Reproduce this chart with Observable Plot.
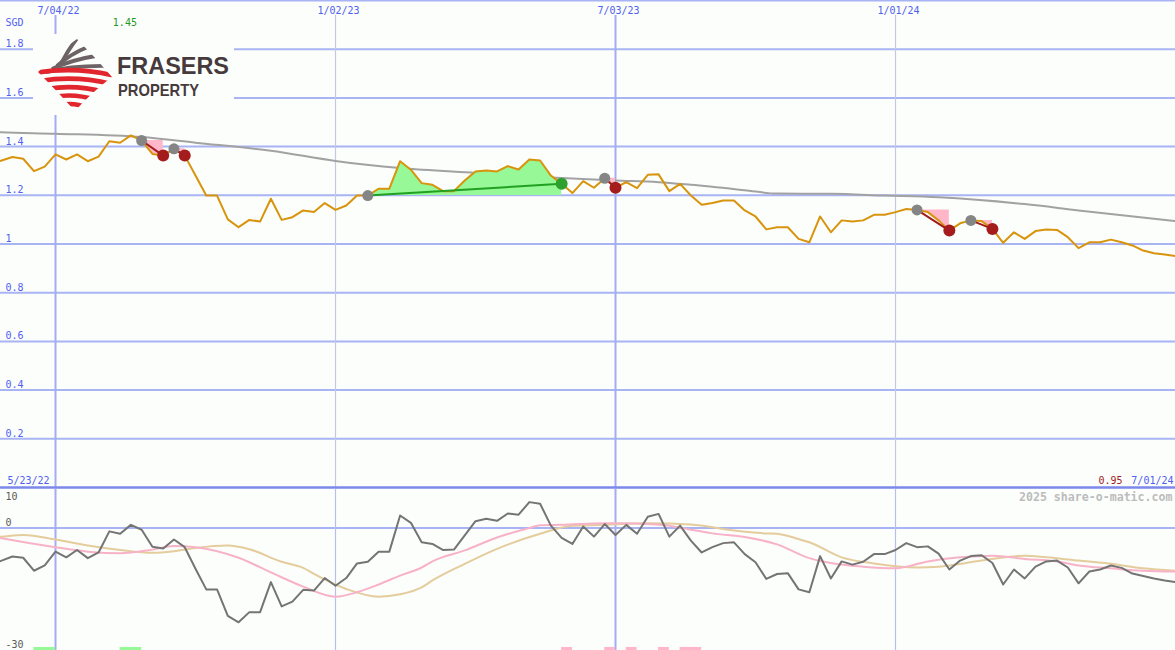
<!DOCTYPE html>
<html><head><meta charset="utf-8">
<script src="https://cdn.jsdelivr.net/npm/d3@7"></script>
<script src="https://cdn.jsdelivr.net/npm/@observablehq/plot@0.6"></script>
<style>
html,body{margin:0;padding:0;background:#fcfefc;overflow:hidden;}
#chart{position:relative;width:1175px;height:650px;overflow:hidden;background:#fcfefc;}
#chart > svg{position:absolute;left:0;}
</style></head><body><div id="chart"></div>
<script>
// ---------- data ----------
const weeks = [
"2022-05-23","2022-05-30","2022-06-06","2022-06-13","2022-06-20","2022-06-27",
"2022-07-04","2022-07-11","2022-07-18","2022-07-25","2022-08-01","2022-08-08","2022-08-15","2022-08-22","2022-08-29",
"2022-09-05","2022-09-12","2022-09-19","2022-09-26","2022-10-03","2022-10-10","2022-10-17","2022-10-24","2022-10-31",
"2022-11-07","2022-11-14","2022-11-21","2022-11-28","2022-12-05","2022-12-12","2022-12-19","2022-12-26",
"2023-01-02","2023-01-09","2023-01-16","2023-01-23","2023-01-30","2023-02-06","2023-02-13","2023-02-20","2023-02-27",
"2023-03-06","2023-03-13","2023-03-20","2023-03-27","2023-04-03","2023-04-10","2023-04-17","2023-04-24",
"2023-05-01","2023-05-08","2023-05-15","2023-05-22","2023-05-29","2023-06-05","2023-06-12","2023-06-19","2023-06-26",
"2023-07-03","2023-07-10","2023-07-17","2023-07-24","2023-07-31","2023-08-07","2023-08-14","2023-08-21","2023-08-28",
"2023-09-04","2023-09-11","2023-09-18","2023-09-25","2023-10-02","2023-10-09","2023-10-16","2023-10-23","2023-10-30",
"2023-11-06","2023-11-13","2023-11-20","2023-11-27","2023-12-04","2023-12-11","2023-12-18","2023-12-25",
"2024-01-01","2024-01-08","2024-01-15","2024-01-22","2024-01-29","2024-02-05","2024-02-12","2024-02-19","2024-02-26",
"2024-03-04","2024-03-11","2024-03-18","2024-03-25","2024-04-01","2024-04-08","2024-04-15","2024-04-22","2024-04-29",
"2024-05-06","2024-05-13","2024-05-20","2024-05-27","2024-06-03","2024-06-10","2024-06-17","2024-06-24","2024-07-01"];

const price = [
1.330,1.343,1.357,1.350,1.299,1.318,
1.368,1.347,1.368,1.340,1.359,1.422,1.416,1.446,1.425,
1.370,1.363,1.391,1.363,1.281,1.199,1.199,1.101,1.069,
1.099,1.092,1.186,1.099,1.110,1.138,1.131,1.168,
1.140,1.158,1.199,1.199,1.227,1.227,1.340,1.305,1.250,
1.243,1.217,1.217,1.261,1.298,1.302,1.298,1.320,
1.306,1.347,1.343,1.281,1.247,1.209,1.258,1.231,1.270,
1.231,1.254,1.229,1.284,1.286,1.217,1.247,1.199,1.161,
1.168,1.179,1.179,1.138,1.113,1.060,1.069,1.069,1.021,
1.007,1.113,1.048,1.097,1.092,1.097,1.120,1.120,
1.131,1.144,1.140,1.131,1.097,1.055,1.085,1.097,1.094,
1.062,1.005,1.048,1.021,1.053,1.060,1.058,1.028,0.983,
1.007,1.007,1.018,1.007,0.994,0.973,0.962,0.957,0.950];

const oscillator = [
-9.0,-8.0,-7.0,-7.3,-10.5,-9.2,
-5.8,-7.2,-5.4,-7.4,-6.0,-0.8,-1.4,0.8,-0.4,
-4.6,-5.0,-2.8,-4.7,-10.0,-15.1,-15.1,-21.6,-23.2,
-20.7,-20.7,-13.3,-19.3,-18.1,-15.2,-15.4,-12.3,
-14.2,-12.3,-8.7,-8.3,-5.8,-5.8,3.1,1.3,-3.5,
-3.9,-5.4,-5.3,-1.8,1.7,2.3,1.8,3.6,
3.3,6.4,6.0,0.6,-2.4,-3.9,0.4,-2.1,1.0,
-1.7,0.8,-1.4,2.8,3.5,-2.1,0.6,-3.1,-6.0,
-4.7,-3.7,-3.5,-6.4,-8.4,-12.5,-11.3,-11.1,-15.1,
-15.8,-6.9,-12.4,-8.2,-9.0,-8.3,-6.4,-6.4,
-5.4,-3.7,-4.7,-4.5,-6.3,-10.2,-8.0,-6.9,-6.7,
-8.6,-13.9,-10.2,-12.4,-9.5,-8.2,-8.0,-9.7,-13.6,
-10.7,-10.2,-9.2,-9.8,-11.2,-11.8,-12.4,-12.9,-13.3];

// long moving average of price (read at selected weeks; index into weeks)
const maLongWeek = [0,1,6,14,19,26,32,38,45,52,58,62,65,70,73,78,83,88,96,101,110];
const maLongValue = [1.461,1.459,1.453,1.439,1.416,1.383,1.341,1.312,1.292,1.273,1.261,1.254,1.243,1.221,1.207,1.206,1.199,1.192,1.164,1.138,1.094];

// oscillator averages (pink = fast, tan = slow)
const oscFastWeek = [0,1,6,9,12,15,17,19,23,26,29,32,34,36,38,40,41,44,47,50,51,53,57,59,61,63,65,67,70,73,76,78,81,84,87,90,93,96,99,101,104,107,110];
const oscFastValue = [-2.0,-2.5,-4.7,-5.8,-6.2,-5.3,-4.4,-4.7,-7.3,-10.9,-14.4,-16.9,-15.8,-13.9,-11.7,-9.7,-8.2,-5.5,-2.3,0.0,0.7,0.8,1.2,1.2,1.0,0.6,-0.4,-1.3,-2.2,-4.0,-7.4,-8.6,-9.5,-9.9,-8.2,-7.2,-6.8,-7.6,-8.2,-9.2,-9.9,-10.5,-10.7];
const oscSlowWeek = [0,1,3,6,9,12,15,17,19,22,24,27,29,30,33,36,38,40,41,44,47,51,54,57,61,65,69,72,73,75,76,79,82,86,88,92,96,98,101,104,107,110];
const oscSlowValue = [-2.3,-2.1,-1.7,-2.8,-4.3,-5.4,-6.1,-5.7,-4.9,-4.3,-5.2,-8.3,-9.8,-11.3,-15.0,-16.9,-16.3,-14.6,-12.9,-8.8,-5.1,-1.4,0.6,0.8,1.2,0.9,-0.6,-1.3,-1.4,-2.7,-3.5,-7.2,-8.7,-9.7,-9.5,-8.0,-6.8,-7.2,-8.0,-8.8,-9.9,-10.5];

// trade signals
const tradeType  = ["sell","sell","buy","sell","sell","sell"];
const tradeEntry = ["2022-08-29","2022-09-19","2023-01-23","2023-06-26","2024-01-15","2024-02-19"];
const tradeExit  = ["2022-09-12","2022-09-26","2023-05-29","2023-07-03","2024-02-05","2024-03-04"];

// small signal bars along the bottom
const markerStart = ["2022-06-20","2022-08-15","2023-05-29","2023-06-26","2023-07-10","2023-07-31","2023-08-14"];
const markerEnd   = ["2022-07-04","2022-08-29","2023-06-05","2023-07-03","2023-07-17","2023-08-07","2023-08-28"];
const markerType  = ["buy","buy","sell","sell","sell","sell","sell"];

// axis ticks
const tickDates  = ["2022-07-04","2023-01-02","2023-07-03","2024-01-01"];
const tickLabels = ["7/04/22","1/02/23","7/03/23","1/01/24"];
const tickMajor  = [true,false,true,false];
const priceTicks = [1.8,1.6,1.4,1.2,1,0.8,0.6,0.4,0.2];
const oscTicks   = [10,0,-30];
const currency = "SGD";
const startLabel = "5/23/22", endLabel = "7/01/24";
const credit = "2025 share-o-matic.com";

// ---------- build ----------
const parse = d3.utcParse("%Y-%m-%d");
const dates = weeks.map(parse);
const idx = new Map(weeks.map((w,i)=>[w,i]));
const rows = dates.map((d,i)=>({date:d, price:price[i], osc:oscillator[i]}));
const maLong = maLongWeek.map((i,j)=>({date:dates[i], v:maLongValue[j]}));
const oscFast = oscFastWeek.map((i,j)=>({date:dates[i], v:oscFastValue[j]}));
const oscSlow = oscSlowWeek.map((i,j)=>({date:dates[i], v:oscSlowValue[j]}));
const trades = tradeType.map((t,j)=>{
  const i0 = idx.get(tradeEntry[j]), i1 = idx.get(tradeExit[j]);
  return {id:j, type:t, d0:dates[i0], p0:price[i0], d1:dates[i1], p1:price[i1],
    seg: rows.slice(i0, i1+1).map(r=>({...r, base:price[i0], id:j}))};
});
const sellFill = trades.filter(t=>t.type==="sell").flatMap(t=>t.seg);
const buyFill  = trades.filter(t=>t.type==="buy").flatMap(t=>t.seg);
const ticks = tickDates.map((d,i)=>({date:parse(d), label:tickLabels[i], major:tickMajor[i]}));
const markers = markerStart.map((s,i)=>({x1:parse(s), x2:parse(markerEnd[i]), type:markerType[i]}));
const maxRow = rows.reduce((a,b)=> b.price > a.price ? b : a);
const lastRow = rows[rows.length-1];

const W = 1175;
const xDomain = [new Date("2022-05-29T06:00:00Z"), new Date("2024-07-01T00:00:00Z")];
const BLUE = "#5060f0", GRID = "#a8b4f4", MONO = "DejaVu Sans Mono, monospace";

const topPlot = Plot.plot({
  width: W, height: 489, marginLeft:0, marginRight:0, marginTop:0, marginBottom:2,
  style:{background:"transparent", overflow:"hidden"},
  x:{type:"utc", domain:xDomain, axis:null},
  y:{domain:[0,2], axis:null},
  marks:[
    Plot.ruleY(priceTicks, {stroke:GRID, strokeWidth:2}),
    Plot.ruleY([2], {stroke:GRID, strokeWidth:2}),
    Plot.ruleX(ticks.filter(d=>!d.major), {x:"date", y1:0, y2:1.938, stroke:"#c4c8e0", strokeWidth:1.2}),
    Plot.ruleX(ticks.filter(d=>d.major), {x:"date", y1:0, y2:1.938, stroke:"#a4acf4", strokeWidth:2}),
    Plot.ruleY([0], {stroke:"#7c88ea", strokeWidth:2.5}),
    Plot.line(maLong, {x:"date", y:"v", stroke:"#a2a2a2", strokeWidth:2, curve:"monotone-x"}),
    Plot.areaY(sellFill, {x:"date", y1:"base", y2:"price", z:"id", fill:"#ffb6c8"}),
    Plot.areaY(buyFill, {x:"date", y1:"base", y2:"price", z:"id", fill:"#96f896"}),
    Plot.line(rows, {x:"date", y:"price", stroke:"#d8940c", strokeWidth:2}),
    Plot.link(trades, {x1:"d0", y1:"p0", x2:"d1", y2:"p1", stroke:d=>d.type==="buy"?"#22a022":"#a01c1c", strokeWidth:2}),
    Plot.dot(trades, {x:"d0", y:"p0", r:5.5, fill:"#858585"}),
    Plot.dot(trades, {x:"d1", y:"p1", r:6, fill:d=>d.type==="buy"?"#2ea02e":"#a41c1c"}),
    Plot.text(priceTicks, {y:d=>d, text:d=>String(d), frameAnchor:"left", textAnchor:"start", dx:5, dy:-2, lineAnchor:"bottom", fill:BLUE, fontSize:10, fontFamily:MONO}),
    Plot.text(ticks, {x:"date", y:2, text:"label", lineAnchor:"bottom", dy:13, dx:3, fill:BLUE, fontSize:10, fontFamily:MONO}),
    Plot.text([currency], {frameAnchor:"top-left", text:d=>d, textAnchor:"start", lineAnchor:"bottom", dx:5, dy:25, fill:BLUE, fontSize:10, fontFamily:MONO}),
    Plot.text([maxRow], {x:"date", y:2, text:d=>d.price.toFixed(2), lineAnchor:"bottom", dy:25, dx:-6, fill:"#1e9a1e", fontSize:10, fontFamily:MONO}),
    Plot.text([startLabel], {frameAnchor:"left", y:0, text:d=>d, textAnchor:"start", lineAnchor:"bottom", dx:7, dy:-4, fill:BLUE, fontSize:10, fontFamily:MONO}),
    Plot.text([endLabel], {frameAnchor:"right", y:0, text:d=>d, textAnchor:"end", lineAnchor:"bottom", dx:-2, dy:-4, fill:BLUE, fontSize:10, fontFamily:MONO}),
    Plot.text([lastRow], {frameAnchor:"right", y:0, text:d=>d.price.toFixed(2), textAnchor:"end", lineAnchor:"bottom", dx:-53, dy:-4, fill:"#a01c1c", fontSize:10, fontFamily:MONO})
  ]
});

const bottomPlot = Plot.plot({
  width: W, height: 161, marginLeft:0, marginRight:0, marginTop:0, marginBottom:0,
  style:{background:"transparent", overflow:"hidden"},
  x:{type:"utc", domain:xDomain, axis:null},
  y:{domain:[-30.15, 9.51], axis:null},
  marks:[
    Plot.ruleY([0], {stroke:GRID, strokeWidth:2}),
    Plot.ruleX(ticks.filter(d=>!d.major), {x:"date", stroke:"#b8bff0", strokeWidth:1.2}),
    Plot.ruleX(ticks.filter(d=>d.major), {x:"date", stroke:"#a4acf4", strokeWidth:2}),
    Plot.line(oscSlow, {x:"date", y:"v", stroke:"#e4cc9c", strokeWidth:2, curve:"monotone-x"}),
    Plot.line(oscFast, {x:"date", y:"v", stroke:"#f8b2c8", strokeWidth:2, curve:"monotone-x"}),
    Plot.line(rows, {x:"date", y:"osc", stroke:"#747474", strokeWidth:2}),
    Plot.rect(markers, {x1:"x1", x2:"x2", y1:-30.15, y2:-29.4, fill:d=>d.type==="buy"?"#96f896":"#ffb6c8"}),
    Plot.text(oscTicks.filter(d=>d>9.51), {frameAnchor:"top-left", text:d=>String(d), textAnchor:"start", lineAnchor:"bottom", dx:5, dy:10, fill:"#5a5a5a", fontSize:10, fontFamily:MONO}),
    Plot.text(oscTicks.filter(d=>d<=9.51), {y:d=>d, frameAnchor:"left", text:d=>String(d), textAnchor:"start", lineAnchor:"bottom", dx:5, dy:-2, fill:"#5a5a5a", fontSize:10, fontFamily:MONO}),
    Plot.text([credit], {frameAnchor:"top-right", text:d=>d, textAnchor:"end", lineAnchor:"bottom", dx:-3, dy:11, fill:"#bcbcbc", fontWeight:"bold", fontSize:11.6, fontFamily:MONO})
  ]
});

const chart = document.getElementById("chart");
topPlot.style.top = "0px";
bottomPlot.style.top = "489px";
chart.appendChild(topPlot);
chart.appendChild(bottomPlot);

// logo overlay
const NS = "http://www.w3.org/2000/svg";
const logo = document.createElementNS(NS, "svg");
logo.setAttribute("width", 240); logo.setAttribute("height", 120);
logo.style.top = "0px";
logo.innerHTML = `
<defs><clipPath id="diamond"><path d="M38,72 Q58,52 77,39 Q96,58 112,77 Q92,92 75,111 Q56,90 38,72 Z"/></clipPath></defs>
<rect x="33" y="34" width="201" height="81" fill="#fcfefc"/>
<g clip-path="url(#diamond)" fill="none" stroke-linecap="butt">
<g stroke="#6d6366" stroke-width="4">
<path d="M62,62 Q68,50 78,37"/>
<path d="M57,66 Q70,54 90,46"/>
<path d="M52,69 Q70,60 101,55"/>
<path d="M46,72 Q72,65 112,66"/>
</g>
<g stroke="#e1262e" stroke-width="4.6">
<path d="M34,73 Q75,66 116,76"/>
<path d="M40,81 Q75,75 112,84"/>
<path d="M47,89 Q75,84 104,92"/>
<path d="M54,97 Q74,93 96,100"/>
<path d="M61,105 Q74,102 88,108"/>
</g>
</g>
<text x="117" y="74" font-family="Liberation Sans, Arial, sans-serif" font-weight="700" font-size="24" fill="#463a3c" textLength="112" lengthAdjust="spacingAndGlyphs">FRASERS</text>
<text x="118" y="96" font-family="Liberation Sans, Arial, sans-serif" font-weight="700" font-size="17" fill="#463a3c" textLength="81" lengthAdjust="spacingAndGlyphs">PROPERTY</text>`;
chart.appendChild(logo);
</script>
</body></html>
